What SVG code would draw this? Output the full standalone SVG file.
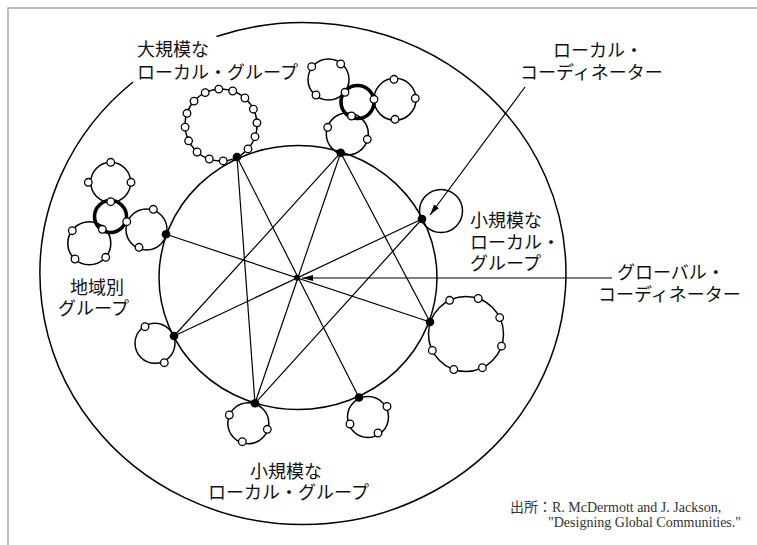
<svg xmlns="http://www.w3.org/2000/svg" width="757" height="545" viewBox="0 0 757 545">
<style>
.ring{fill:none;stroke:#000;stroke-width:1.5}
.thick{fill:none;stroke:#000;stroke-width:3.6}
.m{fill:#fff;stroke:#000;stroke-width:1.3}
.hub{fill:#000}
.edge{stroke:#000;stroke-width:1.2;fill:none}
.lbl{font-family:"Liberation Sans","Noto Sans CJK JP",sans-serif;font-size:18px;fill:#111}
.src{font-family:"Liberation Serif","Noto Sans CJK JP",serif;font-size:14px;fill:#333}
</style>
<defs>
<marker id="ah" markerWidth="12" markerHeight="8" refX="11" refY="4" orient="auto" markerUnits="userSpaceOnUse">
<path d="M0,1 L11,4 L0,7 Z" fill="#000"/>
</marker>
</defs>
<rect width="757" height="545" fill="#fff"/>
<path d="M8,545 V8 H757" fill="none" stroke="#aaa" stroke-width="1.5"/>

<g id="outer-boundary">
<path d="M216.5,36.5 A263 251 0 1 1 133,82" class="ring"/>
</g>
<g id="global-ring">
<ellipse cx="298" cy="277.5" rx="139" ry="132" class="ring"/>
</g>

<g id="connectors">
<line x1="237" y1="157" x2="255" y2="403.3" class="edge"/>
<line x1="237" y1="157" x2="359" y2="397.5" class="edge"/>
<line x1="340.7" y1="152.7" x2="174" y2="336" class="edge"/>
<line x1="340.7" y1="152.7" x2="255" y2="403.3" class="edge"/>
<line x1="340.7" y1="152.7" x2="430" y2="322" class="edge"/>
<line x1="422" y1="219" x2="174" y2="336" class="edge"/>
<line x1="422" y1="219" x2="255" y2="403.3" class="edge"/>
<line x1="166" y1="234.3" x2="430" y2="322" class="edge"/>
<line x1="612" y1="278" x2="302" y2="278" class="edge" marker-end="url(#ah)"/>
<line x1="525" y1="87" x2="430" y2="215" class="edge" marker-end="url(#ah)"/>
</g>

<g id="global-coordinator">
<circle cx="297" cy="277.7" r="3" class="hub"/>
</g>

<g id="group-large-top">
<circle cx="221" cy="125" r="36" class="ring"/>
<circle cx="205.2" cy="92.6" r="3.8" class="m"/>
<circle cx="218.8" cy="89.1" r="3.8" class="m"/>
<circle cx="232.7" cy="91" r="3.8" class="m"/>
<circle cx="244.9" cy="98" r="3.8" class="m"/>
<circle cx="253.4" cy="109.2" r="3.8" class="m"/>
<circle cx="256.9" cy="122.8" r="3.8" class="m"/>
<circle cx="255" cy="136.7" r="3.8" class="m"/>
<circle cx="248" cy="148.9" r="3.8" class="m"/>
<circle cx="223.2" cy="160.9" r="3.8" class="m"/>
<circle cx="209.3" cy="159" r="3.8" class="m"/>
<circle cx="197.1" cy="152" r="3.8" class="m"/>
<circle cx="188.6" cy="140.8" r="3.8" class="m"/>
<circle cx="185.1" cy="127.2" r="3.8" class="m"/>
<circle cx="187" cy="113.3" r="3.8" class="m"/>
<circle cx="194" cy="101.1" r="3.8" class="m"/>
<circle cx="237" cy="157" r="4.3" class="hub"/>
</g>

<g id="group-cluster-top">
<circle cx="328.5" cy="79.5" r="20.5" class="ring"/>
<circle cx="395" cy="99.3" r="21" class="ring"/>
<circle cx="347.3" cy="134" r="21" class="ring"/>
<circle cx="357.5" cy="102" r="16.5" class="thick"/>
<circle cx="311.7" cy="66.7" r="3.8" class="m"/>
<circle cx="340.7" cy="64" r="3.8" class="m"/>
<circle cx="316" cy="95" r="3.8" class="m"/>
<circle cx="345" cy="92.3" r="3.8" class="m"/>
<circle cx="374" cy="99.3" r="3.8" class="m"/>
<circle cx="394" cy="79.3" r="3.8" class="m"/>
<circle cx="415.3" cy="98.3" r="3.8" class="m"/>
<circle cx="395" cy="119.3" r="3.8" class="m"/>
<circle cx="351.5" cy="116" r="3.8" class="m"/>
<circle cx="327.7" cy="127.3" r="3.8" class="m"/>
<circle cx="367.3" cy="139.3" r="3.8" class="m"/>
<circle cx="340.7" cy="152.7" r="4.3" class="hub"/>
</g>

<g id="group-small-right">
<circle cx="441" cy="211" r="21.5" class="ring"/>
<circle cx="422" cy="219" r="4.3" class="hub"/>
</g>

<g id="group-large-right">
<circle cx="466" cy="334" r="37.5" class="ring"/>
<circle cx="449.6" cy="300.3" r="3.8" class="m"/>
<circle cx="478.2" cy="298.5" r="3.8" class="m"/>
<circle cx="499.7" cy="317.6" r="3.8" class="m"/>
<circle cx="501.5" cy="346.2" r="3.8" class="m"/>
<circle cx="482.4" cy="367.7" r="3.8" class="m"/>
<circle cx="453.8" cy="369.5" r="3.8" class="m"/>
<circle cx="432.3" cy="350.4" r="3.8" class="m"/>
<circle cx="430" cy="322" r="4.3" class="hub"/>
</g>

<g id="group-bottom-right">
<circle cx="368" cy="417" r="20.5" class="ring"/>
<circle cx="387" cy="406.5" r="3.8" class="m"/>
<circle cx="350" cy="424" r="3.8" class="m"/>
<circle cx="378" cy="433" r="3.8" class="m"/>
<circle cx="359" cy="397.5" r="4.3" class="hub"/>
</g>

<g id="group-bottom-left">
<circle cx="248.3" cy="423.3" r="20.5" class="ring"/>
<circle cx="229.3" cy="415" r="3.8" class="m"/>
<circle cx="267.3" cy="429.3" r="3.8" class="m"/>
<circle cx="242.3" cy="441.7" r="3.8" class="m"/>
<circle cx="255" cy="403.3" r="4.3" class="hub"/>
</g>

<g id="group-left-lower">
<circle cx="155" cy="343.3" r="20" class="ring"/>
<circle cx="145" cy="326.7" r="3.8" class="m"/>
<circle cx="164.3" cy="362.7" r="3.8" class="m"/>
<circle cx="174" cy="336" r="4.3" class="hub"/>
</g>

<g id="group-regional">
<circle cx="110.7" cy="182.3" r="20" class="ring"/>
<circle cx="89.3" cy="243.3" r="21.5" class="ring"/>
<circle cx="146.5" cy="229.5" r="20.5" class="ring"/>
<circle cx="110.5" cy="216.5" r="16" class="thick"/>
<circle cx="110.7" cy="162.3" r="3.8" class="m"/>
<circle cx="88.3" cy="182.3" r="3.8" class="m"/>
<circle cx="131" cy="182.3" r="3.8" class="m"/>
<circle cx="110.7" cy="201.7" r="3.8" class="m"/>
<circle cx="126.7" cy="221.7" r="3.8" class="m"/>
<circle cx="102.3" cy="229.3" r="3.8" class="m"/>
<circle cx="72.3" cy="230.7" r="3.8" class="m"/>
<circle cx="75" cy="259" r="3.8" class="m"/>
<circle cx="105.7" cy="257.3" r="3.8" class="m"/>
<circle cx="153.3" cy="209.3" r="3.8" class="m"/>
<circle cx="139" cy="247.3" r="3.8" class="m"/>
<circle cx="166" cy="234.3" r="4.3" class="hub"/>
</g>

<g id="labels">
<text class="lbl" x="137" y="56">大規模な</text>
<text class="lbl" x="137" y="79">ローカル・グループ</text>
<text class="lbl" x="553" y="57">ローカル・</text>
<text class="lbl" x="520" y="79">コーディネーター</text>
<text class="lbl" x="470" y="227">小規模な</text>
<text class="lbl" x="470" y="249">ローカル・</text>
<text class="lbl" x="470" y="270">グループ</text>
<text class="lbl" x="70" y="294">地域別</text>
<text class="lbl" x="58" y="315">グループ</text>
<text class="lbl" x="617" y="279">グローバル・</text>
<text class="lbl" x="598" y="301">コーディネーター</text>
<text class="lbl" x="250" y="478">小規模な</text>
<text class="lbl" x="208" y="499">ローカル・グループ</text>
<text class="src" x="510" y="512">出所：R. McDermott and J. Jackson,</text>
<text class="src" x="548" y="527">"Designing Global Communities."</text>
</g>
</svg>
